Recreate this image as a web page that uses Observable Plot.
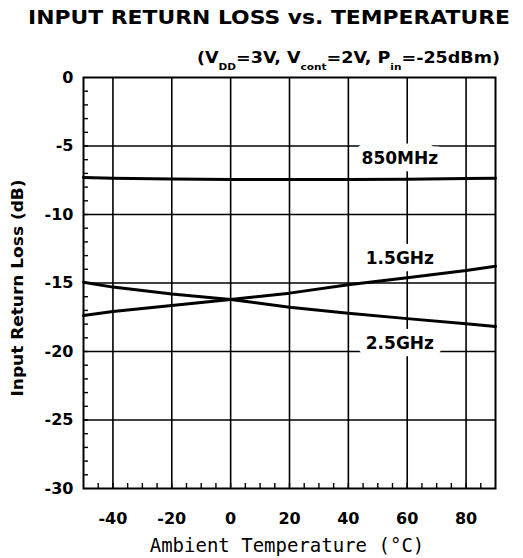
<!DOCTYPE html>
<html>
<head>
<meta charset="utf-8">
<script src="https://cdn.jsdelivr.net/npm/d3@7"></script>
<script src="https://cdn.jsdelivr.net/npm/@observablehq/plot@0.6"></script>
<style>
  html, body { margin: 0; padding: 0; background: #fff; }
  #chart svg { display: block; }
</style>
</head>
<body>
<div id="chart"></div>
<script>
// ---- data ----
const temps   = [-50, -40, -20, 0, 20, 40, 60, 80, 90];
const mhz850  = [-7.30, -7.35, -7.40, -7.45, -7.45, -7.45, -7.42, -7.38, -7.35];
const ghz15   = [-17.37, -17.08, -16.64, -16.20, -15.74, -15.13, -14.62, -14.09, -13.77];
const ghz25   = [-14.94, -15.30, -15.80, -16.20, -16.77, -17.20, -17.60, -17.98, -18.17];
const seriesNames = ["850MHz", "1.5GHz", "2.5GHz"];
const seriesValues = [mhz850, ghz15, ghz25];

const labelText = ["850MHz", "1.5GHz", "2.5GHz"];
const labelT    = [57.5, 57.5, 57.5];
const labelV    = [-5.9, -13.2, -19.45];

const xMajor = [-40, -20, 0, 20, 40, 60, 80];
const xMinor = d3.range(-45, 90, 5);
const yMajor = [-30, -25, -20, -15, -10, -5, 0];
const yMinor = d3.range(-29, 0, 1);

const rows = [];
seriesNames.forEach((s, i) => temps.forEach((t, j) => rows.push({series: s, t, v: seriesValues[i][j]})));
const labels = labelText.map((text, i) => ({text, t: labelT[i], v: labelV[i]}));

const FONT = "'DejaVu Sans', sans-serif";

const chart = Plot.plot({
  width: 523,
  height: 558,
  marginLeft: 83,
  marginRight: 28,
  marginTop: 77,
  marginBottom: 70,
  style: {fontFamily: FONT, background: "white", color: "black"},
  x: {domain: [-50, 90], label: null},
  y: {domain: [-30, 0], label: null},
  marks: [
    Plot.gridX(xMajor, {stroke: "black", strokeOpacity: 1, strokeWidth: 1.6}),
    Plot.gridY(yMajor.filter(d => d > -30 && d < 0), {stroke: "black", strokeOpacity: 1, strokeWidth: 1.6}),
    Plot.axisX(xMinor, {tickSize: -5, tickFormat: () => "", label: null, strokeWidth: 1.4}),
    Plot.axisY(yMinor, {tickSize: -5, tickFormat: () => "", label: null, strokeWidth: 1.4}),
    Plot.axisX(xMajor, {tickSize: 0, tickPadding: 24, tickFormat: d => String(d), label: null,
      fontSize: 16, fontWeight: "bold"}),
    Plot.axisY(yMajor, {tickSize: 0, tickPadding: 10, tickFormat: d => String(d), label: null,
      fontSize: 16, fontWeight: "bold"}),
    Plot.line(rows, {x: "t", y: "v", z: "series", stroke: "black", strokeWidth: 3}),
    Plot.text(labels, {x: "t", y: "v", text: "text", fontSize: 17, fontWeight: "bold",
      fill: "black", stroke: "white", strokeWidth: 15, paintOrder: "stroke"}),
    Plot.frame({stroke: "black", strokeWidth: 2})
  ]
});

document.getElementById("chart").appendChild(chart);

const svg = d3.select(chart);
// title
svg.append("text")
  .attr("x", 28).attr("y", 24)
  .attr("text-anchor", "start")
  .attr("font-family", FONT).attr("font-weight", "bold").attr("font-size", 19)
  .attr("textLength", 482).attr("lengthAdjust", "spacingAndGlyphs")
  .attr("fill", "black")
  .text("INPUT RETURN LOSS vs. TEMPERATURE");

// subtitle with subscripts
const sub = svg.append("text")
  .attr("x", 197).attr("y", 63)
  .attr("text-anchor", "start")
  .attr("font-family", FONT).attr("font-weight", "bold").attr("font-size", 15)
  .attr("fill", "black");
const parts = [["(V", false], ["DD", true], ["=3V, V", false], ["cont", true], ["=2V, P", false], ["in", true], ["=-25dBm)", false]];
parts.forEach(([t, isSub]) => {
  const ts = sub.append("tspan").text(t);
  if (isSub) ts.attr("font-size", 9).attr("baseline-shift", "-7");
});
sub.attr("textLength", 303).attr("lengthAdjust", "spacingAndGlyphs");

// y axis title
svg.append("text")
  .attr("transform", "translate(23,288) rotate(-90)")
  .attr("text-anchor", "middle")
  .attr("font-family", FONT).attr("font-weight", "bold").attr("font-size", 15)
  .attr("textLength", 217).attr("lengthAdjust", "spacingAndGlyphs")
  .attr("fill", "black")
  .text("Input Return Loss (dB)");

// x axis title
svg.append("text")
  .attr("x", 287).attr("y", 552)
  .attr("text-anchor", "middle")
  .attr("font-family", "'DejaVu Sans Mono', monospace").attr("font-size", 19)
  .attr("fill", "black")
  .text("Ambient Temperature (°C)");
</script>
</body>
</html>
